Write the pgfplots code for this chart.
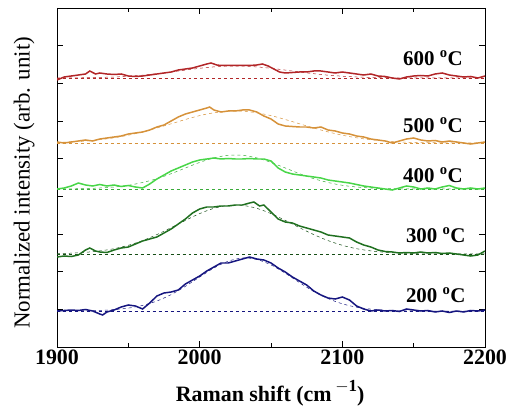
\documentclass[border=0pt]{standalone}
\usepackage{pgfplots}
\pgfplotsset{compat=1.18}
\usepackage{fontspec}
\setmainfont{Liberation Serif}
\definecolor{c600}{RGB}{178,38,40}
\definecolor{c500}{RGB}{214,146,58}
\definecolor{c400}{RGB}{72,214,72}
\definecolor{c300}{RGB}{32,112,32}
\definecolor{c200}{RGB}{22,22,128}
\begin{document}
\begin{tikzpicture}
\begin{axis}[name=ax,
  scale only axis, width=428bp, height=339bp,
  xmin=1900, xmax=2200, ymin=0, ymax=339,
  axis line style={line width=0.8pt}, 
  xtick={1900,2000,2100,2200}, xticklabels={1900,2000,2100,2200},
  minor xtick={1950,2050,2150},
  ytick={37.67,75.33,113,150.67,188.33,226,263.67,301.33},
  yticklabels={},
  tick align=inside, tick style={black, line width=0.7pt},
  major tick length=6bp, minor tick length=4bp,
  xticklabel style={font=\fontsize{22}{24}\selectfont\bfseries, yshift=1bp},
  xlabel={\textbf{Raman shift (cm\,\raisebox{0.45em}{\fontsize{17}{18}\selectfont $-$1})}},
  ylabel={Normalized intensity (arb. unit)},
  xlabel style={font=\fontsize{22}{24}\selectfont, at={(axis description cs:0.498,-0.136)}, anchor=center},
  ylabel style={font=\fontsize{23}{25}\selectfont, at={(axis description cs:-0.077,0.484)}, anchor=center},
  clip=true,
]
% ---- baselines
\addplot[c600, dashed, line width=0.5pt] coordinates {(1900,269) (2200,269)};
\addplot[c500, dashed, line width=0.5pt] coordinates {(1900,204) (2200,204)};
\addplot[c400!80!black, dashed, line width=0.5pt] coordinates {(1900,158) (2200,158)};
\addplot[c300!70!black, dashed, line width=0.5pt] coordinates {(1900,93) (2200,93)};
\addplot[c200, dashed, line width=0.5pt] coordinates {(1900,36) (2200,36)};
% ---- fits
\addplot[c600, dashed, line width=0.5pt, smooth] coordinates {(1900,269.1) (1910,269.1) (1920,269.3) (1930,269.6) (1940,270) (1950,270.8) (1960,271.8) (1970,273.3) (1980,275) (1990,276.9) (2000,278.7) (2010,280.1) (2020,280.9) (2030,280.9) (2040,280.1) (2050,278.7) (2060,276.9) (2070,275) (2080,273.3) (2090,271.8) (2100,270.8) (2110,270) (2120,269.6) (2130,269.3) (2140,269.1) (2150,269.1) (2200,269)};
\addplot[c500, dashed, line width=0.5pt, smooth] coordinates {(1900,204.6) (1910,205.1) (1920,206) (1930,207.3) (1940,209.2) (1950,211.8) (1960,215.1) (1970,219) (1980,223.2) (1990,227.5) (2000,231.4) (2010,234.2) (2020,235.8) (2030,235.8) (2040,234.2) (2050,231.4) (2060,227.5) (2070,223.2) (2080,219) (2090,215.1) (2100,211.8) (2110,209.2) (2120,207.3) (2130,206) (2140,205.1) (2150,204.6) (2160,204.3) (2200,204)};
\addplot[c400!80!black, dashed, line width=0.5pt, smooth] coordinates {(1900,158.1) (1910,158.2) (1920,158.4) (1930,159) (1940,160) (1950,161.7) (1960,164.5) (1970,168.3) (1980,173.3) (1990,179) (2000,184.6) (2010,189.1) (2020,191.7) (2030,191.7) (2040,189.1) (2050,184.6) (2060,179) (2070,173.3) (2080,168.3) (2090,164.5) (2100,161.7) (2110,160) (2120,159) (2130,158.4) (2140,158.2) (2150,158.1) (2200,158)};
\addplot[c300!70!black, dashed, line width=0.5pt, smooth] coordinates {(1900,93.4) (1910,93.8) (1920,94.7) (1930,96.1) (1940,98.3) (1950,101.7) (1960,106.4) (1970,112.4) (1980,119.3) (1990,126.6) (2000,133.4) (2010,138.7) (2020,141.6) (2030,141.6) (2040,138.7) (2050,133.4) (2060,126.6) (2070,119.3) (2080,112.4) (2090,106.4) (2100,101.7) (2110,98.3) (2120,96.1) (2130,94.7) (2140,93.8) (2150,93.4) (2160,93.1) (2200,93)};
\addplot[c200, dashed, line width=0.5pt, smooth] coordinates {(1900,36) (1910,36.1) (1920,36.2) (1930,36.6) (1940,37.4) (1950,38.9) (1960,41.6) (1970,46) (1980,52.4) (1990,60.7) (2000,70) (2010,79) (2020,85.8) (2030,89) (2040,87.6) (2050,82.1) (2060,73.8) (2070,64.4) (2080,55.5) (2090,48.4) (2100,43.2) (2110,39.8) (2120,37.9) (2130,36.8) (2140,36.2) (2150,36) (2200,36)};
% ---- spectra
\addplot[c600, line width=1.5pt] coordinates {(1900,267) (1905,270) (1910,271) (1915,272) (1920,273) (1923,276) (1927,273) (1930,274) (1935,273) (1940,272.5) (1945,273) (1950,271) (1955,270.5) (1960,271) (1965,272) (1970,273) (1975,274) (1980,275) (1985,277) (1990,278) (1995,279) (2000,281) (2005,283) (2008,284) (2012,282) (2015,281.5) (2020,281.5) (2025,281.5) (2030,281.5) (2035,281.5) (2040,282) (2044,283) (2048,281) (2052,278) (2056,275) (2060,274) (2065,274.5) (2070,275) (2075,275) (2080,276) (2085,276) (2090,275) (2095,274) (2100,275) (2105,274) (2110,273) (2115,272) (2120,273) (2125,271) (2130,270.5) (2135,269) (2140,268) (2145,270) (2150,271) (2155,271.5) (2160,271) (2165,273) (2170,274) (2175,272) (2180,271) (2185,270) (2190,270.5) (2195,269) (2200,271)};
\addplot[c500, line width=1.5pt] coordinates {(1900,205) (1905,204) (1910,205) (1915,206) (1920,207) (1925,206) (1930,208) (1935,209) (1940,210) (1945,211) (1950,213) (1955,214) (1960,215) (1965,217) (1970,220) (1975,222) (1980,226) (1985,230) (1990,233) (1995,235) (2000,237) (2005,239) (2007,240) (2010,237) (2015,235) (2020,236) (2025,236) (2030,237) (2035,237) (2040,235) (2045,231) (2050,228) (2055,223) (2060,221) (2065,220.5) (2070,220) (2075,220) (2080,219) (2085,220) (2090,217) (2095,216) (2100,214) (2105,213) (2110,211) (2115,210) (2120,208) (2125,207) (2130,206) (2135,204) (2140,206) (2145,208) (2150,209) (2155,207) (2160,206) (2165,206.5) (2170,205) (2175,206) (2180,205) (2185,204) (2190,203) (2195,204) (2200,205)};
\addplot[c400, line width=1.5pt] coordinates {(1900,158) (1905,159) (1910,161) (1915,164) (1920,162) (1925,161) (1930,162.5) (1935,161) (1940,162) (1945,160.5) (1950,161.5) (1955,160) (1960,159) (1965,163) (1970,168) (1975,172) (1980,176) (1985,179) (1990,182) (1995,185) (2000,187) (2005,188) (2010,189) (2015,188) (2020,188.5) (2025,188) (2030,188) (2035,188.5) (2040,188) (2045,188) (2050,186) (2055,179) (2060,175) (2065,173) (2070,172) (2075,171) (2080,170) (2085,169) (2090,167) (2095,166) (2100,165) (2105,164) (2110,162.5) (2115,161) (2120,160) (2125,159) (2130,158) (2135,157) (2140,159) (2145,161) (2150,160) (2155,158) (2160,159) (2165,158) (2170,160) (2175,161.5) (2180,159) (2185,158) (2190,159) (2195,158) (2200,159)};
\addplot[c300, line width=1.5pt] coordinates {(1900,90) (1905,91) (1910,90.5) (1915,92) (1920,97) (1923,99) (1927,96) (1930,95) (1935,94.5) (1940,97) (1945,99) (1950,100) (1955,103) (1960,106) (1965,108) (1970,110) (1975,114) (1980,118) (1985,123) (1990,128) (1995,134) (2000,138) (2005,140) (2010,140) (2015,141) (2020,141) (2025,142) (2030,142) (2035,144) (2038,145) (2042,141) (2045,142) (2050,135) (2055,128) (2060,125) (2065,124) (2070,121) (2075,119) (2080,117) (2085,115) (2090,112) (2095,111) (2100,110) (2105,109) (2110,105) (2115,102) (2120,100) (2125,97) (2130,95.5) (2135,95) (2140,94) (2145,94.5) (2150,94) (2155,95) (2160,94) (2165,94.5) (2170,93.5) (2175,94) (2180,93) (2185,92) (2190,91) (2195,92) (2200,96)};
\addplot[c200, line width=1.5pt] coordinates {(1900,36) (1905,36.5) (1910,37) (1915,36.5) (1920,37.5) (1925,36) (1930,33) (1932,32) (1935,35) (1940,37) (1945,40) (1950,42) (1955,41) (1960,38) (1965,44) (1970,51) (1975,54) (1980,55) (1985,57) (1990,63) (1995,67) (2000,71) (2005,76) (2010,80) (2015,84) (2020,84) (2025,86) (2030,88) (2035,90) (2040,88) (2045,87) (2050,84) (2055,79) (2060,75) (2065,70) (2070,66) (2075,62) (2080,56) (2085,52) (2090,49) (2095,48) (2100,50) (2105,47) (2110,41) (2115,38) (2120,36) (2125,37) (2130,36) (2135,36.5) (2140,35.5) (2145,38) (2150,37) (2155,36) (2160,36.5) (2165,35) (2170,36) (2175,34.5) (2180,36) (2185,35) (2190,36.5) (2195,36) (2200,37)};
% ---- labels
\node[font=\fontsize{21}{23}\selectfont\bfseries] at (axis cs:2163.5,289) {600 \textsuperscript{o}C};
\node[font=\fontsize{21}{23}\selectfont\bfseries] at (axis cs:2163.5,222) {500 \textsuperscript{o}C};
\node[font=\fontsize{21}{23}\selectfont\bfseries] at (axis cs:2163.5,172) {400 \textsuperscript{o}C};
\node[font=\fontsize{21}{23}\selectfont\bfseries] at (axis cs:2165.5,112) {300 \textsuperscript{o}C};
\node[font=\fontsize{21}{23}\selectfont\bfseries] at (axis cs:2165.5,52) {200 \textsuperscript{o}C};
\end{axis}
\pgfresetboundingbox
\path[use as bounding box] ([shift={(-57bp,-66bp)}]ax.south west) rectangle ([shift={(35bp,8bp)}]ax.north east);
\end{tikzpicture}
\end{document}
